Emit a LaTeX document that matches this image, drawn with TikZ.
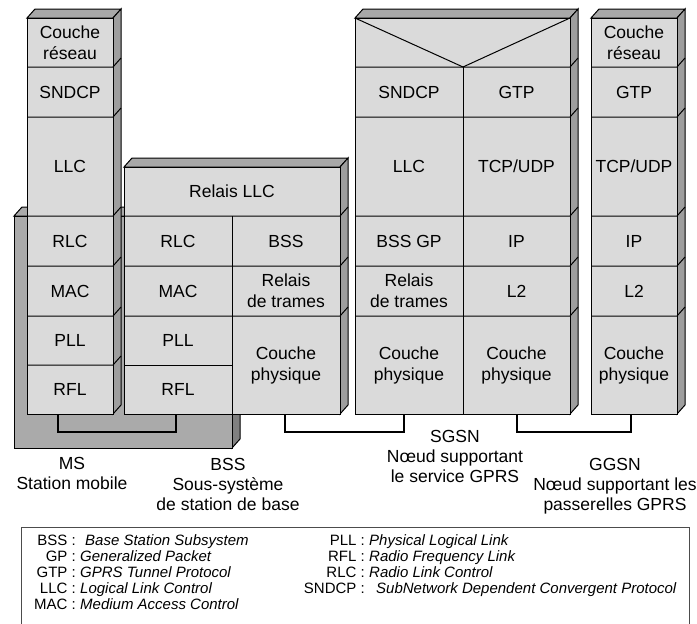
\documentclass[tikz,border=0pt]{standalone}
\usepackage{fontspec}
\setmainfont{Liberation Sans}
\definecolor{frontc}{RGB}{218,218,218}
\definecolor{topc}{RGB}{168,168,168}
\definecolor{sidec}{RGB}{158,158,158}
\definecolor{basec}{RGB}{170,170,170}
\definecolor{basesidec}{RGB}{128,128,128}
\tikzset{
  edge/.style={draw=black, line width=1pt, line join=miter},
  frontface/.style={edge, fill=frontc},
  topface/.style={edge, fill=topc},
  sideface/.style={edge, fill=sidec},
  cell/.style={font=\fontsize{17.5}{21}\selectfont, align=center, inner sep=0pt},
  caption/.style={font=\fontsize{17.5}{20}\selectfont, align=center, inner sep=0pt},
  abbr/.style={font=\fontsize{15}{16}\selectfont, inner sep=0pt, anchor=base east},
  expl/.style={font=\fontsize{15}{16}\selectfont\itshape, inner sep=0pt, anchor=base west},
  bracket/.style={draw=black, line width=1.2pt},
}
% 3D box: x1,y1,x2,y2 (image coordinates, y downwards)
\newcommand{\boxthreed}[4]{%
  \filldraw[topface] (#1,#2) -- (#1+8,#2-9) -- (#3+8,#2-9) -- (#3,#2) -- cycle;
  \filldraw[sideface] (#3,#2) -- (#3+8,#2-9) -- (#3+8,#4-9) -- (#3,#4) -- cycle;
  \filldraw[frontface] (#1,#2) rectangle (#3,#4);
}
% row boundary: x1, x2 (front), y
\newcommand{\rowline}[3]{%
  \draw[edge] (#1,#3) -- (#2,#3) -- (#2+8,#3-9);
}
\begin{document}
\begin{tikzpicture}[x=1pt,y=-1pt]
\useasboundingbox (0,0) rectangle (697,624);

% ---- grey base of MS + BSS ----
\filldraw[edge, fill=basec] (14,216) -- (22,207) -- (240,207) -- (232,216) -- cycle;
\filldraw[edge, fill=basesidec] (232,216) -- (240,207) -- (240,439) -- (232,448) -- cycle;
\filldraw[edge, fill=basec] (14,216) rectangle (232,448);

% ---- MS stack ----
\boxthreed{27}{18}{113}{414}
\foreach \yy in {67,117,216,266,316,365} { \rowline{27}{113}{\yy} }

% ---- BSS stack ----
\boxthreed{124}{167}{340}{414}
\foreach \yy in {216,266,316} { \rowline{124}{340}{\yy} }
\draw[edge] (124,365) -- (232,365);
\draw[edge] (232,216) -- (232,414);

% ---- SGSN stack ----
\boxthreed{355}{18}{570}{414}
\foreach \yy in {67,117,216,266,316} { \rowline{355}{570}{\yy} }
\draw[edge] (463,67) -- (463,414);
\draw[edge] (355,18) -- (463,67) -- (570,18);

% ---- GGSN stack ----
\boxthreed{591}{18}{677}{414}
\foreach \yy in {67,117,216,266,316} { \rowline{591}{677}{\yy} }

% ---- cell labels: MS ----
\node[cell] (ms1) at (70,42.5) {Couche\\réseau};
\node[cell] (ms2) at (70,92) {SNDCP};
\node[cell] (ms3) at (70,166.5) {LLC};
\node[cell] (ms4) at (70,241) {RLC};
\node[cell] (ms5) at (70,291) {MAC};
\node[cell] (ms6) at (70,340.5) {PLL};
\node[cell] (ms7) at (70,389.5) {RFL};

% ---- cell labels: BSS ----
\node[cell] (bs0) at (232,191.5) {Relais LLC};
\node[cell] (bs1) at (178,241) {RLC};
\node[cell] (bs2) at (178,291) {MAC};
\node[cell] (bs3) at (178,340.5) {PLL};
\node[cell] (bs4) at (178,389.5) {RFL};
\node[cell] (bs5) at (286,241) {BSS};
\node[cell] (bs6) at (286,291) {Relais\\de trames};
\node[cell] (bs7) at (286,365) {Couche\\physique};

% ---- cell labels: SGSN ----
\node[cell] (sg1) at (409,92) {SNDCP};
\node[cell] (sg2) at (409,166.5) {LLC};
\node[cell] (sg3) at (409,241) {BSS GP};
\node[cell] (sg4) at (409,291) {Relais\\de trames};
\node[cell] (sg5) at (409,365) {Couche\\physique};
\node[cell] (sg6) at (516.5,92) {GTP};
\node[cell] (sg7) at (516.5,166.5) {TCP/UDP};
\node[cell] (sg8) at (516.5,241) {IP};
\node[cell] (sg9) at (516.5,291) {L2};
\node[cell] (sg10) at (516.5,365) {Couche\\physique};

% ---- cell labels: GGSN ----
\node[cell] (gg1) at (634,42.5) {Couche\\réseau};
\node[cell] (gg2) at (634,92) {GTP};
\node[cell] (gg3) at (634,166.5) {TCP/UDP};
\node[cell] (gg4) at (634,241) {IP};
\node[cell] (gg5) at (634,291) {L2};
\node[cell] (gg6) at (634,365) {Couche\\physique};

% ---- brackets (links) ----
\coordinate (l1a) at (58,414);  \coordinate (l1b) at (176,414);
\coordinate (l2a) at (285,414); \coordinate (l2b) at (404,414);
\coordinate (l3a) at (517,414); \coordinate (l3b) at (631,414);
\draw[bracket] (l1a) -- ++(0,18) -| (l1b);
\draw[bracket] (l2a) -- ++(0,18) -| (l2b);
\draw[bracket] (l3a) -- ++(0,18) -| (l3b);

% ---- captions ----
\node[caption] (cms) at (72,473) {MS\\Station mobile};
\node[caption] (cbss) at (228,484) {BSS\\Sous-système\\de station de base};
\node[caption] (csgsn) at (455,456) {SGSN\\Nœud supportant\\le service GPRS};
\node[caption] (cggsn) at (615,486) {GGSN\\Nœud supportant les\\passerelles GPRS};

% ---- legend ----
\draw[line width=0.8pt, draw=black!70] (21,625) -- (21,527) -- (689,527) -- (689,625);
\node[abbr] (a1) at (76,545) {BSS :};  \node[expl] (e1) at (85,545) {Base Station Subsystem};
\node[abbr] (a2) at (76,561) {GP :};   \node[expl] (e2) at (80,561) {Generalized Packet};
\node[abbr] (a3) at (76,577) {GTP :};  \node[expl] (e3) at (80,577) {GPRS Tunnel Protocol};
\node[abbr] (a4) at (76,593) {LLC :};  \node[expl] (e4) at (80,593) {Logical Link Control};
\node[abbr] (a5) at (76,609) {MAC :};  \node[expl] (e5) at (80,609) {Medium Access Control};
\node[abbr] (a6) at (365,545) {PLL :};   \node[expl] (e6) at (369,545) {Physical Logical Link};
\node[abbr] (a7) at (365,561) {RFL :};   \node[expl] (e7) at (369,561) {Radio Frequency Link};
\node[abbr] (a8) at (365,577) {RLC :};   \node[expl] (e8) at (369,577) {Radio Link Control};
\node[abbr] (a9) at (365,593) {SNDCP :}; \node[expl] (e9) at (376,593) {SubNetwork Dependent Convergent Protocol};
\end{tikzpicture}
\end{document}
